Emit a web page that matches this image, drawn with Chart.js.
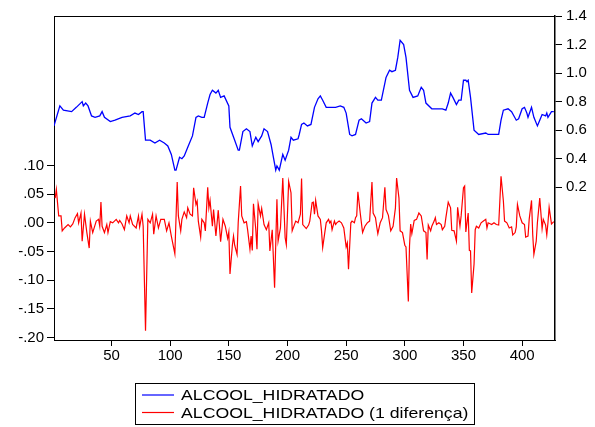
<!DOCTYPE html>
<html>
<head>
<meta charset="utf-8">
<script src="https://cdn.jsdelivr.net/npm/chart.js@4"></script>
<style>
  body { margin: 0; background: #fff; }
  #wrap { width: 595px; height: 427px; }
</style>
</head>
<body>
<div id="wrap"><canvas id="grafico"></canvas></div>
<script>
// ALCOOL_HIDRATADO (eixo direito) - observacao e valor
const blueX = [1,6,9,16,20,25,26,28,30,33,
  36,40,42,44,49,53,59,66,70,73,
  76,77,79,83,87,91,95,98,101,104,
  105,108,110,112,115,119,122,124,127,129,
  132,134,136,139,141,143,146,150,151,155,
  158,159,162,165,168,170,173,175,178,180,
  183,186,188,190,191,193,196,198,201,203,
  205,209,210,212,214,217,220,223,226,228,
  230,233,237,241,245,248,250,253,255,258,
  261,263,267,270,272,275,277,280,284,287,
  289,292,294,296,299,301,304,307,311,314,
  316,318,323,332,335,337,339,341,344,346,
  348,350,352,353,354,356,359,363,369,371,
  380,382,384,388,391,395,397,400,402,404,
  405,408,410,413,415,417,420,421,422,425,
  427];
const blueY = [0.63,0.77,0.74,0.73,0.76,0.80,0.77,0.79,0.77,0.70,
  0.69,0.70,0.73,0.69,0.66,0.67,0.69,0.70,0.72,0.71,
  0.73,0.73,0.53,0.53,0.51,0.53,0.51,0.49,0.43,0.32,
  0.32,0.41,0.40,0.42,0.48,0.56,0.69,0.70,0.69,0.69,
  0.79,0.85,0.88,0.86,0.88,0.83,0.84,0.77,0.62,0.53,
  0.46,0.46,0.59,0.61,0.59,0.49,0.55,0.52,0.56,0.61,
  0.59,0.50,0.41,0.32,0.35,0.32,0.43,0.39,0.46,0.55,
  0.53,0.54,0.57,0.64,0.65,0.63,0.64,0.76,0.82,0.84,
  0.81,0.76,0.76,0.76,0.77,0.76,0.72,0.57,0.56,0.57,
  0.67,0.68,0.65,0.66,0.79,0.83,0.81,0.81,0.97,1.02,
  1.01,1.02,1.11,1.23,1.20,1.11,0.88,0.83,0.84,0.90,
  0.88,0.79,0.75,0.75,0.74,0.79,0.86,0.83,0.78,0.81,
  0.81,0.95,0.95,0.94,0.95,0.83,0.60,0.57,0.58,0.57,
  0.57,0.67,0.74,0.75,0.73,0.67,0.68,0.75,0.76,0.72,
  0.69,0.76,0.69,0.63,0.67,0.71,0.70,0.72,0.69,0.73,
  0.73];

// ALCOOL_HIDRATADO (1 diferença) (eixo esquerdo)
const redX = [2,3,5,7,8,10,13,15,17,19,
  21,22,24,25,27,29,31,32,34,37,
  39,40,41,42,44,46,47,49,51,54,
  56,57,59,61,63,65,66,68,71,73,
  74,76,77,79,81,83,85,86,88,90,
  92,95,97,99,101,104,106,107,109,110,
  112,114,115,117,119,120,122,123,124,126,
  127,129,130,132,133,134,136,137,139,141,
  143,145,147,149,150,151,153,154,155,157,
  158,160,161,163,165,166,168,169,170,171,
  173,174,175,177,178,180,182,184,185,187,
  189,191,192,194,196,198,199,201,203,204,
  207,209,211,212,213,216,218,219,221,222,
  223,224,226,228,229,230,232,233,235,236,
  237,238,240,241,242,244,246,248,250,251,
  252,254,255,257,258,259,260,262,263,264,
  266,268,270,272,273,275,276,277,279,281,
  283,284,286,288,290,292,293,295,296,298,
  300,301,303,304,305,306,308,310,312,314,
  316,318,319,320,322,323,325,326,327,329,
  331,332,334,335,337,339,340,342,344,345,
  347,348,350,351,352,354,355,356,357,359,
  360,361,363,365,367,369,370,371,374,376,
  378,380,381,382,384,385,387,389,391,392,
  394,395,396,398,400,402,403,405,406,408,
  409,410,412,413,415,417,418,420,421,422,
  423,425,427];
const redY = [0.043,0.058,0.012,0.012,-0.014,-0.009,-0.003,-0.007,-0.002,0.009,
  0.016,0,0.017,-0.032,0.015,-0.017,-0.044,0.003,-0.017,0.003,
  0.006,-0.006,0.036,-0.006,-0.017,-0.003,-0.017,0.002,0,0.006,
  0,0.004,-0.002,-0.012,0.012,0,0.012,-0.003,-0.009,0.012,
  -0.007,0.015,-0.006,-0.188,0.006,0,0.015,-0.02,0.012,-0.009,
  0.006,0.006,-0.014,0,-0.023,-0.054,0.071,0.012,-0.014,0.006,
  0.019,0.009,0.026,0.015,0.012,0.061,0.032,0.038,0.003,-0.025,
  0.006,0,-0.014,0.062,0.026,0.039,-0.006,0.023,-0.023,0.022,
  -0.033,0.006,-0.006,-0.027,-0.016,-0.089,-0.04,-0.023,-0.039,-0.055,
  0,0.064,0.012,0,0.002,-0.012,-0.046,-0.023,-0.048,0.033,
  -0.012,-0.046,0.033,0.012,0.025,-0.003,-0.012,0,-0.049,-0.012,
  -0.113,0.041,-0.032,-0.009,0.078,-0.026,-0.038,0.072,0.052,-0.014,
  0.003,0,0.015,0.077,-0.003,-0.01,-0.004,0.003,0.035,0.036,
  0.015,0.039,0.012,0.006,-0.014,-0.043,-0.014,0,0.006,0,
  0.003,-0.012,0.003,-0.003,0,0.003,0,-0.009,-0.042,-0.035,
  -0.081,0,0.003,0,0.009,0.012,0.054,0.017,0,-0.017,
  -0.006,0,0.003,0.071,0.017,0.009,-0.006,-0.019,0,0.009,
  0.062,0.023,0.013,-0.014,-0.006,0.026,0.078,0.043,-0.014,-0.017,
  -0.039,-0.042,-0.137,-0.04,-0.002,-0.019,0.004,0.006,0.017,0.012,
  -0.014,-0.017,-0.064,-0.004,-0.014,-0.006,0.003,0.009,-0.003,0,
  -0.003,-0.012,-0.006,0.009,0.036,0.026,-0.013,-0.014,-0.032,0.027,
  -0.006,0.012,0.061,0.064,-0.016,0.017,-0.048,-0.049,-0.122,-0.072,
  -0.012,-0.006,-0.009,0,0.003,0.006,-0.009,0,-0.003,0,
  -0.003,-0.004,0.038,0.081,0.038,0.003,0,-0.009,-0.007,-0.021,
  -0.017,-0.007,0.032,0.012,0,-0.003,-0.025,-0.023,0.006,0.039,
  -0.02,-0.055,-0.032,0,0.043,-0.01,0.006,-0.004,-0.021,0,
  0.027,-0.002,0.002];

// marcas dos eixos
const xTicks = [50, 100, 150, 200, 250, 300, 350, 400];
const leftTicks = [-0.20, -0.15, -0.10, -0.05, 0.00, 0.05, 0.10];
const rightTicks = [0.2, 0.4, 0.6, 0.8, 1.0, 1.2, 1.4];

const labels = ['ALCOOL_HIDRATADO', 'ALCOOL_HIDRATADO (1 diferença)'];

const fonte = { family: 'Arial, "Liberation Sans", sans-serif', size: 15 };

function pontos(xs, ys) {
  return xs.map((x, i) => ({ x: x, y: ys[i] }));
}

function fixarTicks(lista) {
  return (scale) => { scale.ticks = lista.map(v => ({ value: v })); };
}

// moldura do grafico (linha de cima incluida)
const moldura = {
  id: 'moldura',
  beforeDatasetsDraw(chart) {
    const a = chart.chartArea;
    const ctx = chart.ctx;
    ctx.save();
    ctx.strokeStyle = '#000';
    ctx.lineWidth = 1;
    ctx.strokeRect(a.left + 0.5, a.top + 0.5, a.right - a.left - 1, a.bottom - a.top);
    ctx.restore();
  }
};

// legenda em caixa, embaixo
const legendaCaixa = {
  id: 'legendaCaixa',
  afterDraw(chart) {
    const ctx = chart.ctx;
    ctx.save();
    ctx.strokeStyle = '#000';
    ctx.lineWidth = 1;
    ctx.strokeRect(135.5, 383.5, 339, 41);
    chart.data.datasets.forEach((ds, i) => {
      const y = 395 + i * 17.5;
      ctx.strokeStyle = ds.borderColor;
      ctx.lineWidth = 1.2;
      ctx.beginPath();
      ctx.moveTo(142, y);
      ctx.lineTo(174, y);
      ctx.stroke();
      ctx.fillStyle = '#000';
      ctx.font = '14.5px Arial, "Liberation Sans", sans-serif';
      ctx.textBaseline = 'middle';
      ctx.translate(181, y);
      ctx.scale(1.22, 1);
      ctx.fillText(ds.label, 0, 1);
      ctx.setTransform(1, 0, 0, 1, 0, 0);
    });
    ctx.restore();
  }
};

const ctx = document.getElementById('grafico');

new Chart(ctx, {
  type: 'line',
  data: {
    datasets: [
      {
        label: labels[0],
        data: pontos(blueX, blueY),
        yAxisID: 'yR',
        borderColor: '#0000FF',
        borderWidth: 1.3,
        pointRadius: 0,
        tension: 0,
        fill: false,
      },
      {
        label: labels[1],
        data: pontos(redX, redY),
        yAxisID: 'yL',
        borderColor: '#FF0000',
        borderWidth: 1.2,
        pointRadius: 0,
        tension: 0,
        fill: false,
      },
    ],
  },
  options: {
    responsive: true,
    maintainAspectRatio: false,
    animation: false,
    layout: { padding: { top: 16, left: 0, right: 0, bottom: 0 } },
    plugins: {
      legend: { display: false },
      tooltip: { enabled: false },
    },
    scales: {
      x: {
        type: 'linear',
        position: 'bottom',
        min: 1,
        max: 428,
        afterFit: (s) => { s.height = 87; },
        afterBuildTicks: fixarTicks(xTicks),
        ticks: { color: '#000', font: fonte, padding: 1, maxRotation: 0, autoSkip: false },
        grid: { drawOnChartArea: false, tickLength: 6, color: '#000' },
        border: { color: '#000' },
      },
      yL: {
        type: 'linear',
        position: 'left',
        min: -0.204,
        max: 0.36,
        afterFit: (s) => { s.width = 54; },
        afterBuildTicks: fixarTicks(leftTicks),
        ticks: {
          color: '#000',
          font: fonte,
          padding: 3,
          callback: (v) => v.toFixed(2).replace('0.', '.'),
        },
        grid: { drawOnChartArea: false, tickLength: 7, color: '#000' },
        border: { color: '#000' },
      },
      yR: {
        type: 'linear',
        position: 'right',
        min: -0.87,
        max: 1.4,
        afterFit: (s) => { s.width = 40; },
        afterBuildTicks: fixarTicks(rightTicks),
        ticks: {
          color: '#000',
          font: fonte,
          padding: 4,
          callback: (v) => v.toFixed(1),
        },
        grid: { drawOnChartArea: false, tickLength: 7, color: '#000' },
        border: { color: '#000', width: 1.5 },
      },
    },
  },
  plugins: [moldura, legendaCaixa],
});
</script>
</body>
</html>
